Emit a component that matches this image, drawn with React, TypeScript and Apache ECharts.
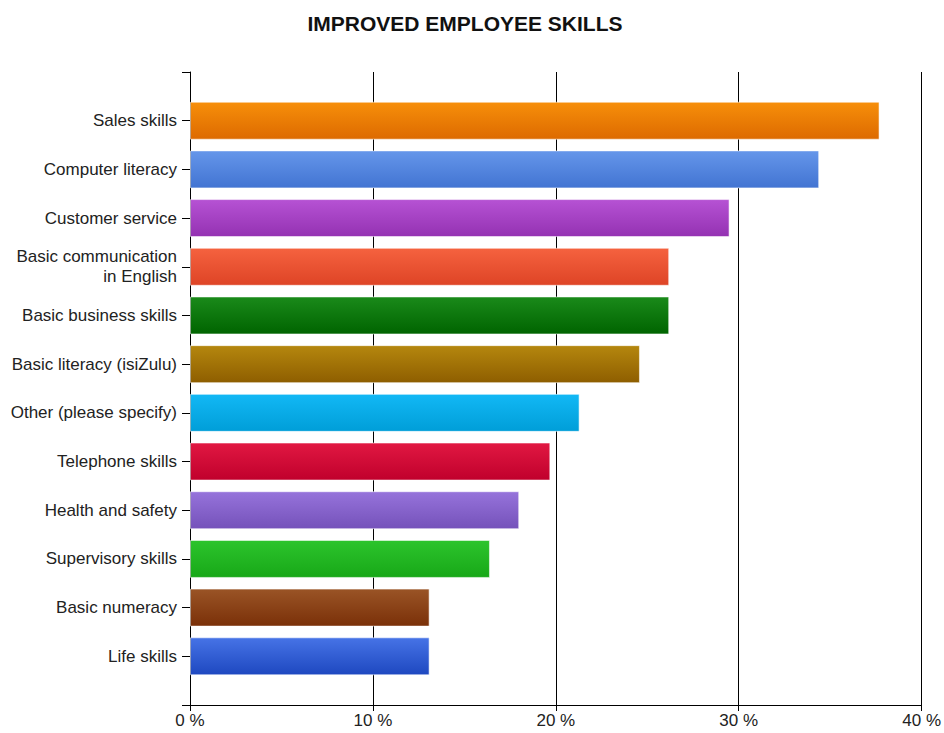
import React, { useEffect, useRef } from "react";
import * as echarts from "echarts";

const title = "IMPROVED EMPLOYEE SKILLS";
const categories = [
  "Sales skills",
  "Computer literacy",
  "Customer service",
  "Basic communication\nin English",
  "Basic business skills",
  "Basic literacy (isiZulu)",
  "Other (please specify)",
  "Telephone skills",
  "Health and safety",
  "Supervisory skills",
  "Basic numeracy",
  "Life skills",
];
const values = [37.7, 34.4, 29.5, 26.2, 26.2, 24.6, 21.3, 19.7, 18.0, 16.4, 13.1, 13.1];
const xTicks = [0, 10, 20, 30, 40];

const topColors = ["#F78F0A", "#6596EA", "#B652D4", "#F5623F", "#1A8A1A", "#B5870E", "#12B8F5", "#E11842", "#9673DB", "#2CC42C", "#9A5426", "#4673E6"];
const bottomColors = ["#DD6A00", "#4274D2", "#9432B2", "#DE4426", "#006400", "#8E5E00", "#009ED8", "#C0002C", "#7552BA", "#18A818", "#7A3008", "#1E48C0"];

export default function App() {
  const ref = useRef<HTMLDivElement>(null);
  useEffect(() => {
    if (!ref.current) return;
    const chart = echarts.init(ref.current, null, { renderer: "svg" });
    const axisCats = ["", ...categories, ""];
    const barData: any[] = ["-"];
    values.forEach((v, i) => {
      barData.push({
        value: v,
        itemStyle: {
          color: new echarts.graphic.LinearGradient(0, 0, 0, 1, [
            { offset: 0, color: topColors[i] },
            { offset: 1, color: bottomColors[i] },
          ]),
          borderColor: "rgba(255,255,255,0.55)",
          borderWidth: 1,
        },
      });
    });
    barData.push("-");
    chart.setOption({
      animation: false,
      backgroundColor: "#ffffff",
      title: {
        text: title,
        left: 460,
        top: 8,
        textAlign: "center",
        textStyle: { fontFamily: "Liberation Sans", fontSize: 21, fontWeight: "bold", color: "#111" },
      },
      grid: { left: 190, right: 18, top: 72, bottom: 28, containLabel: false },
      xAxis: {
        type: "value",
        min: xTicks[0],
        max: xTicks[xTicks.length - 1],
        interval: 10,
        axisLine: { show: true, lineStyle: { color: "#000", width: 1 } },
        axisTick: { show: true, length: 6, lineStyle: { color: "#000" } },
        splitLine: { show: true, lineStyle: { color: "#000", width: 1 } },
        axisLabel: {
          formatter: "{value} %",
          fontFamily: "Liberation Sans",
          fontSize: 17,
          color: "#222",
          margin: 7,
        },
      },
      yAxis: {
        type: "category",
        data: axisCats,
        inverse: true,
        boundaryGap: false,
        axisLine: { show: true, lineStyle: { color: "#000", width: 1 } },
        axisTick: { show: true, length: 8, interval: 0, lineStyle: { color: "#000" } },
        splitLine: { show: false },
        axisLabel: {
          interval: 0,
          fontFamily: "Liberation Sans",
          fontSize: 17,
          color: "#222",
          margin: 13,
          lineHeight: 20,
          align: "right",
        },
      },
      series: [
        {
          type: "bar",
          data: barData,
          barWidth: 38,
        },
      ],
    });
    return () => chart.dispose();
  }, []);
  return (
    <div
      ref={ref}
      style={{ position: "fixed", left: 0, top: 0, width: 944, height: 733 }}
    />
  );
}
